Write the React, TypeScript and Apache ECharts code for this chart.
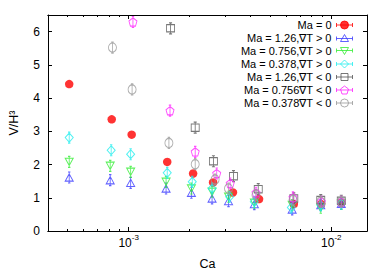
import React, { useEffect, useRef } from "react";
import * as echarts from "echarts";

// ---------- data ----------
const seriesNames = [
  "Ma = 0",
  "Ma = 1.26,\u2207T > 0",
  "Ma = 0.756,\u2207T > 0",
  "Ma = 0.378,\u2207T > 0",
  "Ma = 1.26,\u2207T < 0",
  "Ma = 0.756\u2207T < 0",
  "Ma = 0.378\u2207T < 0",
];

const caMa0 = [5.09e-4, 8.25e-4, 1.035e-3, 1.55e-3, 2.08e-3, 2.61e-3, 3.27e-3, 4.4e-3, 6.53e-3, 8.91e-3, 1.12e-2];
const vMa0 = [4.42, 3.36, 2.9, 2.08, 1.73, 1.46, 1.16, 0.96, 0.81, 0.81, 0.85];

const caPos = [5.09e-4, 8.11e-4, 1.023e-3, 1.53e-3, 2.04e-3, 2.58e-3, 3.11e-3, 4.17e-3, 6.41e-3, 8.87e-3, 1.12e-2];
const vMa126Pos = [1.61, 1.53, 1.45, 1.28, 1.15, 0.98, 0.9, 0.81, 0.65, 0.78, 0.82];
const vMa0756Pos = [2.08, 1.96, 1.78, 1.48, 1.28, 1.18, 1.03, 0.85, 0.78, 0.7, 0.82];
const caMa0378Pos = [5.09e-4, 8.2e-4, 1.023e-3, 1.55e-3, 2.06e-3, 2.58e-3, 3.15e-3, 4.17e-3, 6.35e-3, 8.87e-3, 1.12e-2];
const vMa0378Pos = [2.81, 2.43, 2.31, 1.75, 1.48, 1.28, 1.03, 0.88, 0.71, 0.78, 0.83];

const caMa126Neg = [1.61e-3, 2.13e-3, 2.62e-3, 3.29e-3, 4.36e-3, 6.53e-3, 8.87e-3, 1.12e-2];
const vMa126Neg = [6.1, 3.11, 2.1, 1.65, 1.26, 0.98, 0.93, 0.91];

const caMa0756Neg = [1.05e-3, 1.6e-3, 2.13e-3, 2.72e-3, 3.17e-3, 4.25e-3, 6.47e-3, 8.93e-3, 1.12e-2];
const vMa0756Neg = [6.29, 3.62, 2.38, 1.73, 1.43, 1.15, 1.01, 0.88, 0.88];

const caMa0378Neg = [8.32e-4, 1.04e-3, 1.58e-3, 2.13e-3, 2.67e-3, 3.11e-3, 4.25e-3, 6.47e-3, 8.87e-3, 1.12e-2];
const vMa0378Neg = [5.52, 4.26, 2.65, 2.01, 1.55, 1.28, 1.08, 0.93, 0.88, 0.88];

const xRange = [4e-4, 1.5e-2];
const yRange = [0, 6.5];
const xMajorTicks = [1e-3, 1e-2];
const xMinorTicks = [5e-4, 6e-4, 7e-4, 8e-4, 9e-4, 2e-3, 3e-3, 4e-3, 5e-3, 6e-3, 7e-3, 8e-3, 9e-3];
const yTicks = [0, 1, 2, 3, 4, 5, 6];

// ---------- styling ----------
const FONT = "Liberation Sans, Arial, sans-serif";
const colors = ["#ff0000", "#3a3aff", "#33ee33", "#22eeee", "#555555", "#ff22ff", "#999999"];

const bar = "M5 0L5 12M3.5 0L6.5 0M3.5 12L6.5 12";
const symbolPaths = [
  "circle",
  "path://" + bar + "M5 2L10 10L0 10Z",
  "path://" + bar + "M0 2L10 2L5 10Z",
  "path://" + bar + "M5 1L10 6L5 11L0 6Z",
  "path://" + bar + "M1 2L9 2L9 10L1 10Z",
  "path://" + bar + "M5 1.5L10 5L8.2 10.5L1.8 10.5L0 5Z",
  "path://" + bar + "M0 6A5 5 0 1 0 10 6A5 5 0 1 0 0 6Z",
];
const hbar = "M0 4L16 4M0 2L0 6M16 2L16 6";
const legendIcons = [
  "path://" + hbar + "M4 4A4 4 0 1 0 12 4A4 4 0 1 0 4 4Z",
  "path://" + hbar + "M8 0L12 7L4 7Z",
  "path://" + hbar + "M4 1L12 1L8 8Z",
  "path://" + hbar + "M8 0L12 4L8 8L4 4Z",
  "path://" + hbar + "M4.5 0.5L11.5 0.5L11.5 7.5L4.5 7.5Z",
  "path://" + hbar + "M8 0L12 3L10.5 8L5.5 8L4 3Z",
  "path://" + hbar + "M4 4A4 4 0 1 0 12 4A4 4 0 1 0 4 4Z",
];

const seriesData: [number[], number[]][] = [
  [caMa0, vMa0],
  [caPos, vMa126Pos],
  [caPos, vMa0756Pos],
  [caMa0378Pos, vMa0378Pos],
  [caMa126Neg, vMa126Neg],
  [caMa0756Neg, vMa0756Neg],
  [caMa0378Neg, vMa0378Neg],
];

const lg = Math.log10;

function xAxis(position: string, major: boolean, labels: boolean) {
  return {
    type: "value",
    position,
    min: lg(xRange[0]),
    max: lg(xRange[1]),
    axisLine: { show: true, onZero: false, lineStyle: { color: "#000", width: 1 } },
    axisTick: {
      show: true,
      inside: true,
      length: major ? 4 : 2,
      customValues: (major ? xMajorTicks : xMinorTicks).map(lg),
      lineStyle: { color: "#000", width: 1 },
    },
    axisLabel: labels
      ? {
          show: true,
          customValues: xMajorTicks.map(lg),
          margin: 5,
          formatter: (v: number) => `{b|10}{sup|${Math.round(v)}}`,
          rich: {
            b: { fontSize: 12, lineHeight: 14, fontFamily: FONT, color: "#000" },
            sup: { fontSize: 8, lineHeight: 8, padding: [0, 0, 12, 0], fontFamily: FONT, color: "#000" },
          },
        }
      : { show: false },
    splitLine: { show: false },
    ...(labels
      ? {
          name: "Ca",
          nameLocation: "middle",
          nameGap: 24,
          nameTextStyle: { fontSize: 12.5, fontFamily: FONT, color: "#000" },
        }
      : {}),
  };
}

function yAxis(position: string, labels: boolean) {
  return {
    type: "value",
    position,
    min: yRange[0],
    max: yRange[1],
    axisLine: { show: true, onZero: false, lineStyle: { color: "#000", width: 1 } },
    axisTick: { show: true, inside: true, length: 4, customValues: yTicks, lineStyle: { color: "#000", width: 1 } },
    axisLabel: labels
      ? { show: true, customValues: yTicks, margin: 8, fontSize: 12, fontFamily: FONT, color: "#000" }
      : { show: false },
    splitLine: { show: false },
    ...(labels
      ? {
          name: "V/H\u00b3",
          nameLocation: "middle",
          nameGap: 28,
          nameRotate: 90,
          nameTextStyle: { fontSize: 12.5, fontFamily: FONT, color: "#000" },
        }
      : {}),
  };
}

export default function App() {
  const ref = useRef<HTMLDivElement>(null);
  useEffect(() => {
    document.body.style.margin = "0";
    if (!ref.current) return;
    const chart = echarts.init(ref.current, null, { renderer: "svg" });
    const series = seriesNames.map((name, i) => ({
      name,
      type: "scatter",
      xAxisIndex: 0,
      yAxisIndex: 0,
      symbol: symbolPaths[i],
      symbolSize: i === 0 ? 8.5 : [8, 11],
      itemStyle:
        i === 0
          ? { color: colors[i], borderWidth: 0 }
          : { color: "rgba(255,255,255,0)", borderColor: colors[i], borderWidth: 1 },
      data: seriesData[i][0].map((c, k) => [lg(c), seriesData[i][1][k]]),
      z: 2 + i,
    }));
    chart.setOption({
      animation: false,
      backgroundColor: "#fff",
      grid: { left: 48, right: 23, top: 15, bottom: 42, outerBoundsMode: "none", containLabel: false },
      xAxis: [
        xAxis("bottom", true, true),
        xAxis("bottom", false, false),
        xAxis("top", true, false),
        xAxis("top", false, false),
      ],
      yAxis: [yAxis("left", true), yAxis("right", false)],
      legend: {
        orient: "vertical",
        align: "right",
        right: 37,
        top: 18.5,
        padding: 0,
        itemGap: 0,
        itemWidth: 16,
        itemHeight: 8,
        selectedMode: false,
        textStyle: { fontSize: 11, fontFamily: FONT, color: "#000", lineHeight: 13 },
        itemStyle: { borderWidth: 1 },
        data: seriesNames.map((name, i) => ({
          name,
          icon: legendIcons[i],
          itemStyle: {
            color: i === 0 ? colors[0] : "rgba(255,255,255,0)",
            borderColor: colors[i],
            borderWidth: 1,
          },
        })),
      },
      series,
    });
    return () => chart.dispose();
  }, []);
  return (
    <div
      ref={ref}
      style={{ position: "absolute", left: 0, top: 0, width: 390, height: 273 }}
    />
  );
}
